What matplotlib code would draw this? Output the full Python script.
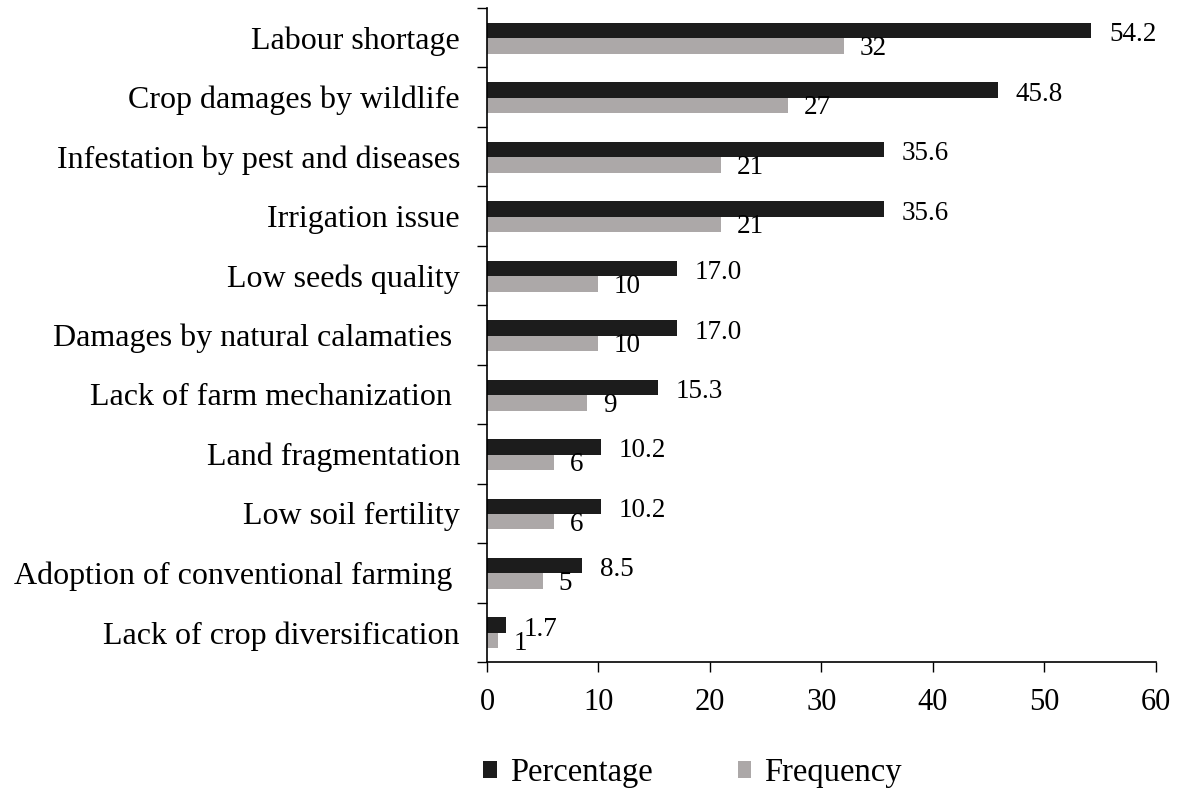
import matplotlib.pyplot as plt
import numpy as np
from matplotlib.ticker import FixedLocator

plt.rcParams['font.family'] = ['Liberation Serif', 'DejaVu Serif']

constraints = ['Labour shortage', 'Crop damages by wildlife', 'Infestation by pest and diseases',
               'Irrigation issue', 'Low seeds quality', 'Damages by natural calamaties ',
               'Lack of farm mechanization ', 'Land fragmentation', 'Low soil fertility',
               'Adoption of conventional farming ', 'Lack of crop diversification']
percentage = [54.2, 45.8, 35.6, 35.6, 17.0, 17.0, 15.3, 10.2, 10.2, 8.5, 1.7]
frequency = [32, 27, 21, 21, 10, 10, 9, 6, 6, 5, 1]

dark = '#1c1c1c'
light = '#aca8a8'

fig = plt.figure(figsize=(11.78, 7.88), dpi=100)
ax = fig.add_axes([0.4134, 0.1599, 0.5679, 0.8299])

y = np.arange(len(constraints))
h = 0.26
ax.barh(y - h / 2 + 0.01, percentage, height=h, color=dark, label='Percentage')
ax.barh(y + h / 2 + 0.01, frequency, height=h, color=light, label='Frequency')

for yi, p, f in zip(y, percentage, frequency):
    ax.text(p + 1.6, yi - h / 2 + 0.03, f'{p:.1f}', va='center_baseline', ha='left', fontsize=19.5)
    ax.text(f + 1.4, yi + h / 2 + 0.0, f'{f}', va='center_baseline', ha='left', fontsize=19.5)

ax.set_ylim(len(constraints) - 0.5, -0.5)
ax.set_xlim(0, 60)
ax.set_yticks(y)
ax.set_yticklabels(constraints, fontsize=23)
ax.yaxis.set_minor_locator(FixedLocator(np.arange(-0.5, len(constraints), 1.0)))
ax.tick_params(axis='y', which='major', length=0, pad=19.5)
ax.tick_params(axis='y', which='minor', length=7, width=1)
ax.set_xticks(range(0, 61, 10))
ax.tick_params(axis='x', labelsize=22, length=7, width=1, pad=12)

for s in ['top', 'right']:
    ax.spines[s].set_visible(False)
for s in ['left', 'bottom']:
    ax.spines[s].set_linewidth(1.2)

fig.legend(loc='lower center', bbox_to_anchor=(0.588, -0.037), ncol=2, frameon=False,
           fontsize=23.5, handlelength=0.42, handleheight=0.42, handletextpad=0.4,
           columnspacing=2.6)

fig.savefig('out.png', dpi=100)
